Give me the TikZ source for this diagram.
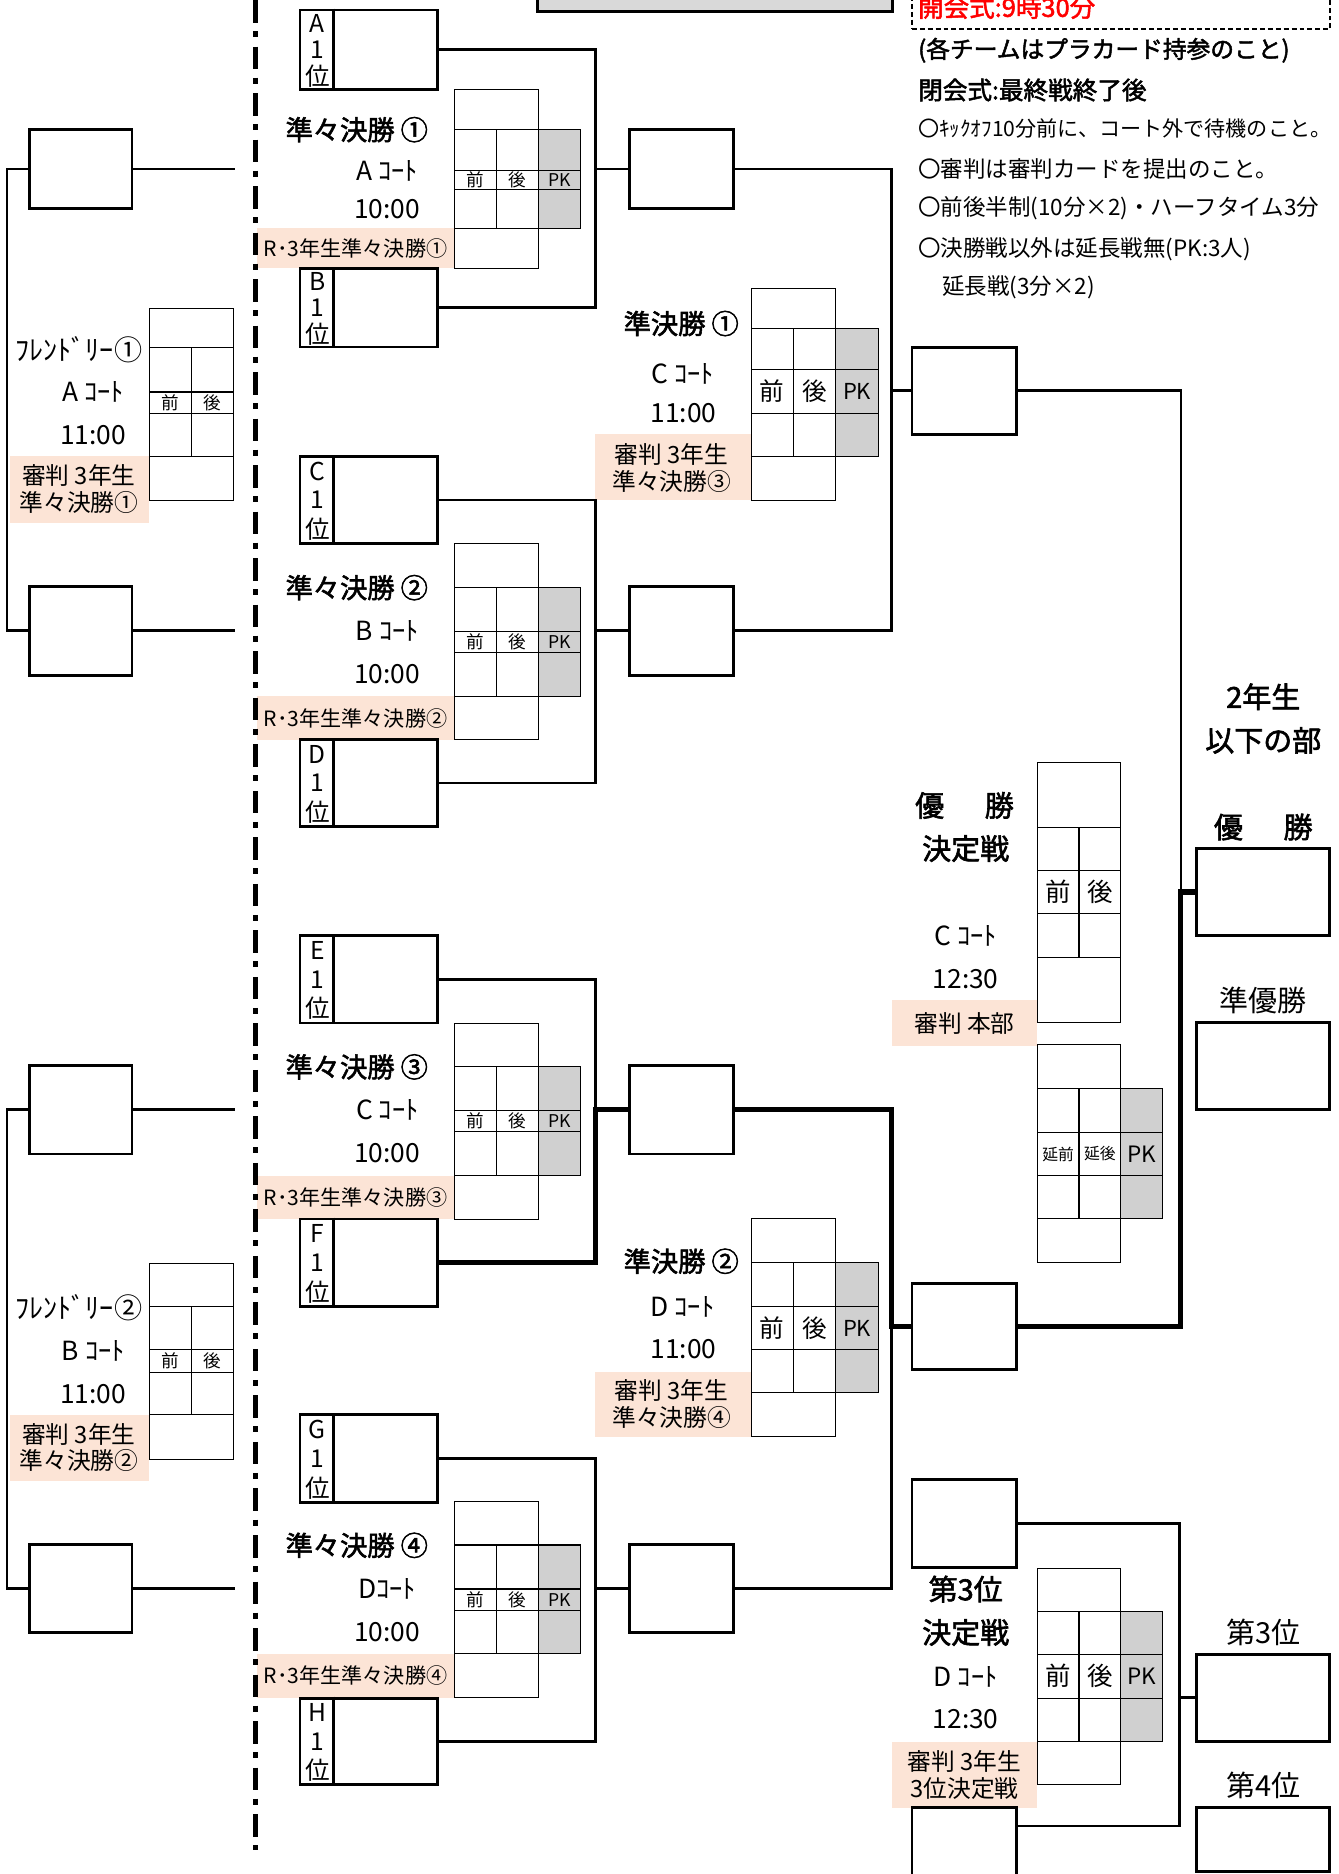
\documentclass[tikz,border=0pt]{standalone}
\usepackage{fontspec}
\setmainfont{Noto Sans CJK JP}[AutoFakeBold=2]
\usetikzlibrary{fit}
\definecolor{refpink}{HTML}{FCE4D6}
\definecolor{pkgray}{HTML}{D0D0D0}
\definecolor{hdrgray}{HTML}{D9D9D9}
\newcommand\fsz[1]{\fontsize{#1}{#1}\selectfont}

\begin{document}
\begin{tikzpicture}[x=0.0239cm, y=-0.0239cm,
  box/.style={draw, line width=1.6pt, inner sep=0pt},
  link/.style={line width=1.5pt},
  winlink/.style={line width=3pt},
  cell/.style={line width=0.6pt},
  band/.style={fill=refpink},
  ttl/.style={font=\bfseries\fsz{15.5}},
  big/.style={font=\bfseries\fsz{16.5}},
  info/.style={font=\fsz{15}},
  reftxt/.style={font=\fontsize{13.5}{15}\selectfont, align=center},
  note/.style={anchor=west, inner sep=0pt, font=\fsz{12.8}}]

  \useasboundingbox (0,0) rectangle (1120,1568);
  \clip (0,0) rectangle (1120,1568);

  % top of the sheet
  \node[box, fill=hdrgray, line width=1.8pt, fit={(450,-20) (747,9.5)}] (hdr) {};
  \node[draw, line width=1.2pt, dash pattern=on 2.8pt off 1.7pt, inner sep=0pt,
        fit={(763,-20) (1113,24.5)}] (open) {};
  \node[note, text=red, font=\bfseries\fsz{14.5}] (open-t) at (768,6) {開会式:9時30分};
  \node[note, font=\bfseries\fsz{13.5}] (n1) at (768,42) {(各チームはプラカード持参のこと)};
  \node[note, font=\bfseries\fsz{14}] (n2) at (768,75.3) {閉会式:最終戦終了後};
  \node[note, font=\fsz{12}] (n3) at (768,107.4) {〇ｷｯｸｵﾌ10分前に、コート外で待機のこと。};
  \node[note] (n4) at (768,141.7) {〇審判は審判カードを提出のこと。};
  \node[note] (n5) at (768,174.4) {〇前後半制(10分×2)・ハーフタイム3分};
  \node[note] (n6) at (768,208.7) {〇決勝戦以外は延長戦無(PK:3人)};
  \node[note] (n7) at (788,240) {延長戦(3分×2)};

  % referee bands
  \foreach \bx/\by/\ex/\ey in {215/191.1/380/224.6, 215/582.6/380/619, 215/983.6/380/1020,
      215/1384/380/1420.5, 8/381.7/124.5/437.5, 8/1183.6/124.5/1239.5, 498/363/628.4/418.6,
      498/1147.7/628.4/1202, 746.4/837/867.8/874.8, 746.4/1457.5/867.8/1512.4}
    \fill[band] (\bx,\by) rectangle (\ex,\ey);

  % divider
  \draw[line width=2.8pt, dash pattern=on 4.5mm off 1.7mm on 1.2mm off 1.9mm] (214,0) -- (214,1548);

  % score sheets
  \foreach \tb/\x/\w/\ya/\yb/\yc/\yd/\ye/\yf/\pk/\la/\lb/\fa/\fb in {
      q1/380/35.3/74.8/108.3/142.3/158.5/191.1/224.6/1/前/後/10/10,
      q2/380/35.3/455/491.7/528/546/582.6/619/1/前/後/10/10,
      q3/380/35.3/856/892.7/929/947/983.6/1020/1/前/後/10/10,
      q4/380/35.3/1256/1292.7/1329.5/1347.7/1383.6/1420.5/1/前/後/10/10,
      s1/628.4/35.5/241.4/274.8/309.2/346/381.7/418.6/1/前/後/14/12.5,
      s2/628.4/35.5/1019.9/1056.7/1093/1129.5/1165.5/1202/1/前/後/14/12.5,
      fin/867.8/35/637.6/692/728.3/764.5/800.8/855.8/0/前/後/14.5/12.5,
      ext/867.8/35/874.2/911/947.3/983.8/1019.9/1056.7/1/延前/延後/9/12.8,
      thd/867.8/35/1312/1348.3/1384/1420.8/1457.5/1493.4/1/前/後/14.5/12.8,
      f1/125/35/258.1/290.8/328/346/381.9/418.8/0/前/後/10/10,
      f2/125/35/1057/1093/1129.5/1148/1183.6/1220.8/0/前/後/10/10}{
    \ifnum\pk=1
      \fill[pkgray] (\x+2*\w,\yb) rectangle (\x+3*\w,\ye);
      \draw[cell] (\x+2*\w,\yb) -- (\x+3*\w,\yb) -- (\x+3*\w,\ye) -- (\x+2*\w,\ye)
                  (\x+2*\w,\yc) -- (\x+3*\w,\yc) (\x+2*\w,\yd) -- (\x+3*\w,\yd);
      \node[font=\fsz{\fb}] (\tb-pk) at (\x+2.5*\w,{(\yc+\yd)/2}) {PK};
    \fi
    \draw[cell] (\x,\ya) rectangle (\x+2*\w,\yf);
    \draw[cell] (\x,\yb) -- (\x+2*\w,\yb) (\x,\yc) -- (\x+2*\w,\yc)
                (\x,\yd) -- (\x+2*\w,\yd) (\x,\ye) -- (\x+2*\w,\ye)
                (\x+\w,\yb) -- (\x+\w,\ye);
    \node[font=\fsz{\fa}] (\tb-a) at (\x+0.5*\w,{(\yc+\yd)/2}) {\la};
    \node[font=\fsz{\fa}] (\tb-b) at (\x+1.5*\w,{(\yc+\yd)/2}) {\lb};
  }

  % first-place teams
  \foreach \nm/\t/\b/\lab in {a1/8.4/74.8/A, b1/224.6/290.3/B, c1/382/455/C, d1/619/691.5/D,
      e1/783/856/E, f1/1020/1093/F, g1/1183.6/1257/G, h1/1420.8/1493.4/H}{
    \node[box, fit={(251,\t) (366,\b)}] (\nm) {};
    \draw[line width=1.6pt] ([xshift=0.693cm]\nm.north west) -- ([xshift=0.693cm]\nm.south west);
    \foreach \k/\s in {1/\lab, 3/1, 5/位}
      \node[font=\fsz{14}, inner sep=0pt] (\nm-\k) at (265.5,{\t+(\b-\t)*\k/6}) {\s};
  }

  % empty name boxes
  \node[box, fit={(25,108.3) (110.5,174.4)}] (l1) {};
  \node[box, fit={(25,490.5) (110.5,565)}] (l2) {};
  \node[box, fit={(25,891.5) (110.5,965.5)}] (l3) {};
  \node[box, fit={(25,1292.5) (110.5,1365.9)}] (l4) {};
  \node[box, fit={(527,108.3) (613.5,174.4)}] (s1) {};
  \node[box, fit={(527,490.5) (613.5,565)}] (s2) {};
  \node[box, fit={(527,891.5) (613.5,965.5)}] (s3) {};
  \node[box, fit={(527,1292.5) (613.5,1365.9)}] (s4) {};
  \node[box, fit={(763,290.5) (850.5,363.3)}] (t1) {};
  \node[box, fit={(763,1074) (850.5,1146)}] (t2) {};
  \node[box, fit={(763,1238) (850.5,1311.5)}] (u1) {};
  \node[box, fit={(763,1512.4) (850.5,1600)}] (u2) {};
  \node[box, fit={(1001,710) (1112.5,782.7)}] (win) {};
  \node[box, fit={(1001,855.8) (1112.5,928.6)}] (run) {};
  \node[box, fit={(1001,1384) (1112.5,1457)}] (b3) {};
  \node[box, fit={(1001,1512.4) (1112.5,1566)}] (b4) {};

  % bracket lines
  \coordinate (fl) at (6,0);
  \coordinate (fr) at (197,0);
  \coordinate (qx) at (498,0);
  \coordinate (sx) at (746,0);
  \coordinate (fx) at (988,0);
  \coordinate (tx) at (987,0);
  \draw[link] (l1.west) -| (fl |- l2.west) -- (l2.west);
  \draw[link] (l3.west) -| (fl |- l4.west) -- (l4.west);
  \foreach \bx in {l1,l2,l3,l4}
    \draw[link] (\bx.east) -- (fr |- \bx.east);
  \foreach \tp/\bt/\nx in {a1/b1/s1, c1/d1/s2, g1/h1/s4}{
    \draw[link] (\tp.east) -| (qx |- \bt.east) -- (\bt.east);
    \draw[link] (qx |- \nx.west) -- (\nx.west);
  }
  \draw[link] (e1.east) -| (qx |- s3.west);
  \draw[winlink] (f1.east) -| (qx |- s3.west) -- (s3.west);
  \draw[link] (s1.east) -| (sx |- s2.east) -- (s2.east);
  \draw[link] (sx |- t1.west) -- (t1.west);
  \draw[link] (s4.east) -| (sx |- t2.west);
  \draw[winlink] (s3.east) -| (sx |- t2.west) -- (t2.west);
  \draw[link] (t1.east) -| (fx |- win.west);
  \draw[winlink] (t2.east) -| (fx |- win.west) -- (win.west);
  \coordinate (u2c) at ([yshift=-0.4cm]u2.north east);
  \draw[link] (u1.east) -| (tx |- u2c) -- (u2c);
  \draw[link] (tx |- b3.west) -- (b3.west);

  % quarter-final captions
  \foreach \q/\yt/\yc/\yh/\yr/\num/\crt in {1/108.5/143/175/208/①/A ｺｰﾄ,
      2/491.7/528/564/600.8/②/B ｺｰﾄ, 3/892.7/929/965/1001.8/③/C ｺｰﾄ,
      4/1293/1329.5/1365.5/1402/④/Dｺｰﾄ}{
    \node[ttl] (qt\q) at (298.5,\yt) {準々決勝 \num};
    \node[info] (qc\q) at (324,\yc) {\crt};
    \node[info] (qh\q) at (324,\yh) {10:00};
    \node[font=\fsz{12}] (qr\q) at (297.5,\yr) {R･3年生準々決勝\num};
  }

  % friendly captions
  \foreach \k/\yt/\yc/\yh/\yr/\num/\crt in {1/293/328/364/409/①/A ｺｰﾄ,
      2/1093.8/1130/1166.3/1211.2/②/B ｺｰﾄ}{
    \node[font=\fsz{16}] (ft\k) at (66,\yt) {ﾌﾚﾝﾄﾞﾘｰ\num};
    \node[info] (fc\k) at (78,\yc) {\crt};
    \node[info] (fh\k) at (78,\yh) {11:00};
    \node[reftxt] (fr\k) at (66,\yr) {審判 3年生\\準々決勝\num};
  }

  % semi-final captions
  \node[ttl] (st1) at (570,270.7) {準決勝 ①};
  \node[info] (sc1) at (571,312.5) {C ｺｰﾄ};
  \node[info] (sh1) at (572,346) {11:00};
  \node[reftxt] (sr1) at (562,391.7) {審判 3年生\\準々決勝③};
  \node[ttl] (st2) at (570,1055.3) {準決勝 ②};
  \node[info] (sc2) at (571,1093.8) {D ｺｰﾄ};
  \node[info] (sh2) at (572,1128.5) {11:00};
  \node[reftxt] (sr2) at (562,1174.8) {審判 3年生\\準々決勝④};

  % final and third place
  \node[big] (fint1) at (807,673.9) {優\hspace{1.4em}勝};
  \node[big] (fint2) at (808,710) {決定戦};
  \node[info] (finc) at (808,782.7) {C ｺｰﾄ};
  \node[info] (finh) at (808,819) {12:30};
  \node[reftxt] (finr) at (807,856) {審判 本部};
  \node[big] (thdt1) at (808,1329.6) {第3位};
  \node[big] (thdt2) at (808,1365.9) {決定戦};
  \node[info] (thdc) at (808,1403) {D ｺｰﾄ};
  \node[info] (thdh) at (808,1438.4) {12:30};
  \node[reftxt] (thdr) at (807,1485) {審判 3年生\\3位決定戦};

  % results column
  \node[big] (grade1) at (1057,583) {2年生};
  \node[big] (grade2) at (1057,619.5) {以下の部};
  \node[big] (wint) at (1057,692) {優\hspace{1.4em}勝};
  \node[font=\fsz{16.5}] (runt) at (1057,837) {準優勝};
  \node[font=\fsz{16.5}] (b3t) at (1057,1366) {第3位};
  \node[font=\fsz{16.5}] (b4t) at (1057,1494) {第4位};
\end{tikzpicture}
\end{document}
